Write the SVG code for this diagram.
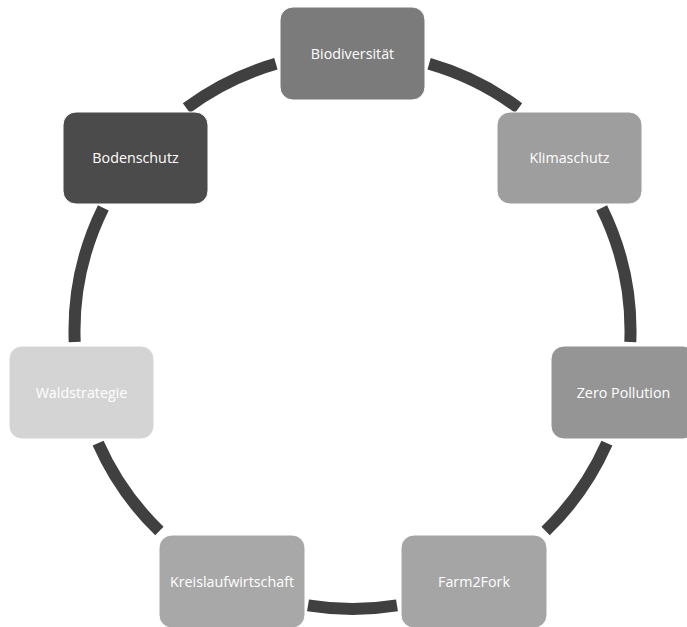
<svg xmlns="http://www.w3.org/2000/svg" width="687" height="627" viewBox="0 0 687 627">
<style>
.node rect{stroke:#ffffff;stroke-width:1;}
.node text{font-family:"Open Sans","Liberation Sans",sans-serif;font-size:14.3px;fill:#ffffff;text-anchor:middle;}
.arc{fill:none;stroke:#404040;stroke-width:12;stroke-linecap:butt;}
</style>
<rect x="0" y="0" width="687" height="627" fill="#ffffff"/>
<g id="connectors">
<path class="arc" d="M429.1,63.8 A278,278 0 0 1 518.6,108.1"/>
<path class="arc" d="M601.7,207.8 A278,278 0 0 1 630.3,342.1"/>
<path class="arc" d="M606.9,443.2 A278,278 0 0 1 545.6,531.0"/>
<path class="arc" d="M397.0,605.4 A278,278 0 0 1 308.0,605.4"/>
<path class="arc" d="M159.4,531.0 A278,278 0 0 1 98.1,443.2"/>
<path class="arc" d="M74.7,342.1 A278,278 0 0 1 103.3,207.8"/>
<path class="arc" d="M186.4,108.1 A278,278 0 0 1 275.9,63.8"/>
</g>
<g id="node-biodiversitaet" class="node">
<rect x="280" y="7" width="145" height="93" rx="13" fill="#7b7b7b"/>
<text x="352.5" y="58.6">Biodiversität</text>
</g>
<g id="node-klimaschutz" class="node">
<rect x="497" y="112" width="145" height="92" rx="13" fill="#9e9e9e"/>
<text x="569.5" y="163.1">Klimaschutz</text>
</g>
<g id="node-zeropollution" class="node">
<rect x="551" y="346" width="145" height="93" rx="13" fill="#959595"/>
<text x="623.5" y="397.6">Zero Pollution</text>
</g>
<g id="node-farm2fork" class="node">
<rect x="401" y="535" width="146" height="93" rx="13" fill="#a5a5a5"/>
<text x="474" y="586.6">Farm2Fork</text>
</g>
<g id="node-kreislaufwirtschaft" class="node">
<rect x="159" y="535" width="146" height="93" rx="13" fill="#a8a8a8"/>
<text x="232" y="586.6">Kreislaufwirtschaft</text>
</g>
<g id="node-waldstrategie" class="node">
<rect x="9" y="346" width="145" height="93" rx="13" fill="#d4d4d4"/>
<text x="81.5" y="397.6">Waldstrategie</text>
</g>
<g id="node-bodenschutz" class="node">
<rect x="63" y="112" width="145" height="92" rx="13" fill="#4b4b4b"/>
<text x="135.5" y="163.1">Bodenschutz</text>
</g>
</svg>
